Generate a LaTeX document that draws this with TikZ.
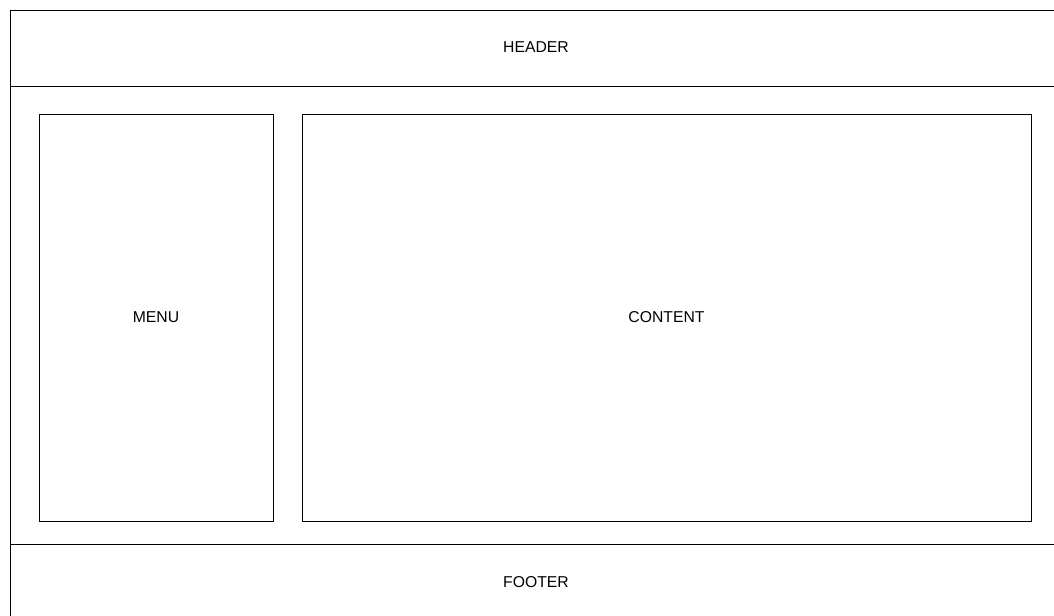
\documentclass[tikz,border=0pt]{standalone}
\usepackage{fontspec}
\setmainfont{Liberation Sans}
\usetikzlibrary{calc}
\tikzset{
  frameline/.style={draw=black, line width=0.75pt},
  panel/.style={draw=black, line width=0.75pt, rectangle, inner sep=0pt, font=\fontsize{11.8pt}{14pt}\selectfont},
  band/.style={draw=none, inner sep=0pt, font=\fontsize{11.8pt}{14pt}\selectfont}
}
\newcommand{\region}[5]{\node[panel, minimum width={(#3-#1)*0.75pt}, minimum height={(#4-#2)*0.75pt}] (#5) at ({(#1+#3)/2}, {(#2+#4)/2}) {\uppercase{#5}};}
\begin{document}
\begin{tikzpicture}[x=0.75pt, y=-0.75pt]
        \useasboundingbox (0,0) rectangle (1054,615);
        \clip (0,0) rectangle (1054,615);
        % page frame
        \draw[frameline] (10,10) rectangle (1062,620);
        % header and footer bands
        \draw[frameline] (10,86) -- (1062,86);
        \draw[frameline] (10,544) -- (1062,544);
        \node[band] (header) at (536,47.5) {HEADER};
        \node[band] (footer) at (536,582.5) {FOOTER};
        % menu and content
        \region{39}{114}{273}{521}{menu}
        \region{302}{114}{1031}{521}{content}
\end{tikzpicture}
\end{document}
